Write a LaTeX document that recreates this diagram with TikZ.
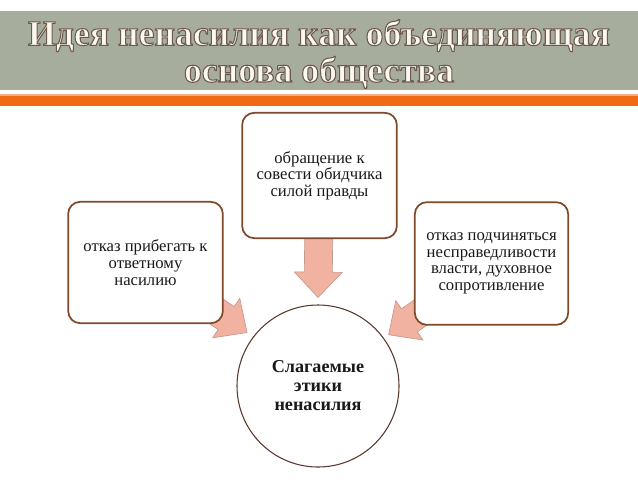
\documentclass[tikz,border=0pt]{standalone}
\usepackage{fontspec}
\setmainfont{Liberation Serif}
\newfontfamily\headfont[FakeBold=3]{Liberation Serif Bold}
\usepackage{xcolor}
\usetikzlibrary{calc,backgrounds}

\definecolor{bandgray}{HTML}{A6AD9C}
\definecolor{bandorange}{HTML}{EE6A14}
\definecolor{boxbrown}{HTML}{7E4A2A}
\definecolor{arrowpink}{HTML}{F2B2A2}
\definecolor{arrowedge}{HTML}{C49A90}
\definecolor{titlefill}{HTML}{FBF8F2}
\definecolor{ringbrown}{HTML}{5A3A2C}

\newcommand\edged{\special{pdf:code 0.43 0.35 0.31 RG}}
\newcommand\shafthalf{10.5pt}
\newcommand\headhalf{18pt}
\newcommand\headlong{19pt}

\begin{document}
\begin{tikzpicture}[
  x=0.75pt, y=-0.75pt,
  every node/.style={font=\fontsize{12.5}{12.5}\selectfont, text=black!90},
  title/.style={align=center, text=titlefill, inner sep=0pt, font=\headfont\fontsize{26.8}{27.5}\selectfont},
  block/.style={rectangle, rounded corners=9pt, draw=boxbrown, line width=1.3pt, fill=white, align=center, minimum width=116pt, minimum height=92pt},
  hub/.style={circle, draw=ringbrown, line width=0.8pt, fill=white, align=center, minimum size=121.5pt, inner sep=0pt, font=\bfseries\fontsize{13.6}{14.3}\selectfont},
  blockarrow/.style={fill=arrowpink, draw=arrowedge, line width=0.5pt, line join=round, to path={
    ($(\tikztostart)!\shafthalf!90:(\tikztotarget)$)
    -- ($(\tikztotarget)!\headlong!(\tikztostart)!\shafthalf!-90:(\tikztostart)$)
    -- ($(\tikztotarget)!\headlong!(\tikztostart)!\headhalf!-90:(\tikztostart)$)
    -- (\tikztotarget)
    -- ($(\tikztotarget)!\headlong!(\tikztostart)!\headhalf!90:(\tikztostart)$)
    -- ($(\tikztotarget)!\headlong!(\tikztostart)!\shafthalf!90:(\tikztostart)$)
    -- ($(\tikztostart)!\shafthalf!-90:(\tikztotarget)$) -- cycle}}
]
\useasboundingbox (0,0) rectangle (638,479);

% title bands
\fill[bandgray] (0,11) rectangle (638,90);
\fill[bandorange] (0,94) rectangle (638,106);
\fill[bandorange!55] (0,94) rectangle (638,95.5);
\node[title] (heading) at (319,54) {\edged Идея ненасилия как объединяющая\\\edged основа общества};

% blocks
\node[block, minimum height=94pt] (appeal) at (319.5,175.5) {обращение к\\совести обидчика\\силой правды};
\node[block, minimum height=91pt] (refusal) at (145.5,262.5) {отказ прибегать к\\ответному\\насилию};
\node[block, minimum width=115pt] (resist) at (491.5,263.5) {отказ подчиняться\\несправедливости\\власти, духовное\\сопротивление};
\node[hub] (ethics) at (318,386) {Слагаемые\\этики\\ненасилия};

\coordinate (tipA) at ($(ethics.center)!1.086!(ethics.90)$);
\coordinate (tipB) at ($(ethics.center)!1.09!(ethics.143)$);
\coordinate (tipC) at ($(ethics.center)!1.07!(ethics.36)$);

\begin{scope}[on background layer]
  \draw[blockarrow] (appeal) to (tipA);
  \draw[blockarrow] (refusal) to (tipB);
  \draw[blockarrow] (resist) to (tipC);
\end{scope}
\end{tikzpicture}
\end{document}
